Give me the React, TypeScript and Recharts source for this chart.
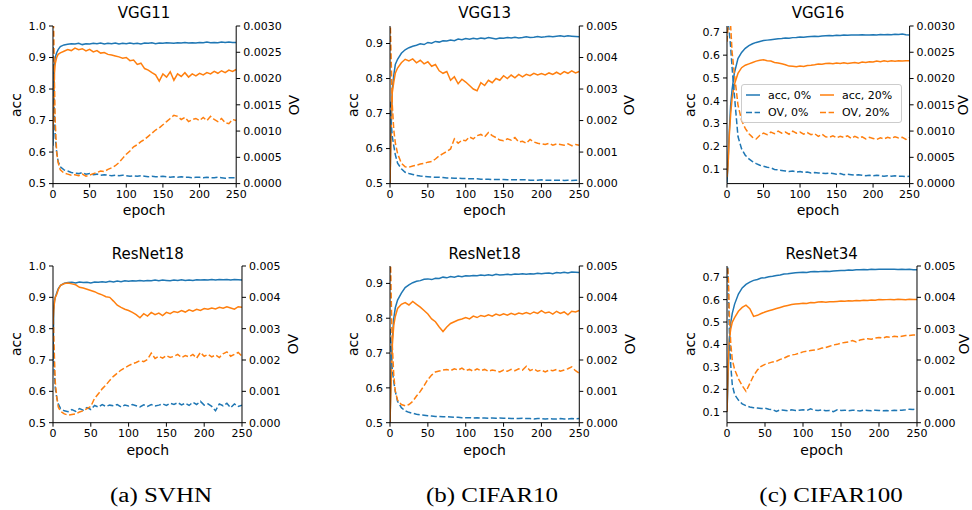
import { LineChart, Line, XAxis, YAxis } from 'recharts';

const BLUE = '#1f77b4';
const ORANGE = '#ff7f0e';
const SANS = '"DejaVu Sans", sans-serif';
const SERIF = '"Liberation Serif", "Times New Roman", serif';

// sampled epochs (dense at the start, then every 5)
const epochs = [
  0, 1, 2, 3, 5, 7, 10,
  15, 20, 25, 30, 35, 40, 45, 50,
  55, 60, 65, 70, 75, 80, 85, 90,
  95, 100, 105, 110, 115, 120, 125, 130,
  135, 140, 145, 150, 155, 160, 165, 170,
  175, 180, 185, 190, 195, 200, 205, 210,
  215, 220, 225, 230, 235, 240, 245, 250,
];

const epochTicks = [0, 50, 100, 150, 200, 250];
const accTicksTo10 = [0.5, 0.6, 0.7, 0.8, 0.9, 1.0];
const accTicksTo09 = [0.5, 0.6, 0.7, 0.8, 0.9];
const accTicksLow = [0.1, 0.2, 0.3, 0.4, 0.5, 0.6, 0.7];
const ovTicks003 = [0, 0.0005, 0.001, 0.0015, 0.002, 0.0025, 0.003];
const ovTicks005 = [0, 0.001, 0.002, 0.003, 0.004, 0.005];

// (a) SVHN - VGG11
const vgg11Acc0 = [
  0.62, 0.85, 0.88, 0.90, 0.915, 0.925, 0.935,
  0.940, 0.942, 0.944, 0.943, 0.945, 0.941, 0.944, 0.943,
  0.945, 0.944, 0.946, 0.943, 0.945, 0.944, 0.946, 0.943,
  0.945, 0.944, 0.946, 0.944, 0.945, 0.943, 0.946, 0.945,
  0.947, 0.944, 0.946, 0.945, 0.947, 0.946, 0.945, 0.947,
  0.946, 0.948, 0.946, 0.947, 0.946, 0.948, 0.947, 0.949,
  0.947, 0.948, 0.947, 0.949, 0.948, 0.949, 0.948, 0.948,
];
const vgg11Acc20 = [
  0.67, 0.76, 0.85, 0.88, 0.90, 0.91, 0.915,
  0.920, 0.925, 0.922, 0.930, 0.925, 0.928, 0.921, 0.926,
  0.918, 0.922, 0.914, 0.916, 0.910, 0.908, 0.905, 0.902,
  0.898, 0.900, 0.890, 0.892, 0.878, 0.882, 0.865, 0.860,
  0.852, 0.845, 0.825, 0.848, 0.838, 0.855, 0.828, 0.848,
  0.840, 0.852, 0.838, 0.848, 0.842, 0.850, 0.845, 0.852,
  0.848, 0.856, 0.850, 0.858, 0.852, 0.860, 0.856, 0.862,
];
const vgg11Ov0 = [
  0.0026, 0.0019, 0.0013, 0.0009, 0.0006, 0.00042, 0.00032,
  0.00026, 0.00024, 0.00021, 0.0002, 0.00019, 0.00021, 0.00018, 0.00019,
  0.00017, 0.00018, 0.00016, 0.00017, 0.00016, 0.00015, 0.00016, 0.00015,
  0.00016, 0.00015, 0.00014, 0.00015, 0.00014, 0.00015, 0.00014, 0.00013,
  0.00014, 0.00013, 0.00013, 0.00014, 0.00013, 0.00012, 0.00013, 0.00012,
  0.00013, 0.00012, 0.00012, 0.00011, 0.00012, 0.00012, 0.00011, 0.00012,
  0.00011, 0.00011, 0.00012, 0.00011, 0.0001, 0.00011, 0.00011, 0.00011,
];
const vgg11Ov20 = [
  0.0034, 0.0029, 0.0019, 0.0012, 0.0006, 0.0004, 0.00026,
  0.0002, 0.00018, 0.00016, 0.00017, 0.00015, 0.00018, 0.00014, 0.00016,
  0.00019, 0.00021, 0.00024, 0.00023, 0.00027, 0.0003, 0.00034, 0.0004,
  0.00048, 0.00056, 0.00062, 0.0007, 0.00074, 0.0008, 0.00084, 0.0009,
  0.00096, 0.00102, 0.00106, 0.00112, 0.00118, 0.00124, 0.0013, 0.00128,
  0.00122, 0.00126, 0.00118, 0.00122, 0.00124, 0.0012, 0.00126, 0.0012,
  0.00128, 0.00122, 0.00118, 0.00124, 0.00116, 0.00114, 0.00122, 0.0012,
];

// (b) CIFAR10 - VGG13
const vgg13Acc0 = [
  0.5, 0.62, 0.70, 0.77, 0.81, 0.84, 0.855,
  0.872, 0.882, 0.888, 0.892, 0.895, 0.899, 0.897, 0.903,
  0.901, 0.906, 0.904, 0.908, 0.907, 0.91, 0.908, 0.913,
  0.911, 0.914, 0.912, 0.915, 0.913, 0.916, 0.914, 0.917,
  0.915, 0.913, 0.916, 0.915, 0.917, 0.916, 0.918, 0.916,
  0.917, 0.919, 0.917, 0.918, 0.92, 0.918, 0.919, 0.921,
  0.919, 0.921, 0.922, 0.92, 0.922, 0.921, 0.92, 0.919,
];
const vgg13Acc20 = [
  0.5, 0.6, 0.7, 0.76, 0.79, 0.815, 0.83,
  0.845, 0.855, 0.85, 0.856, 0.845, 0.852, 0.842, 0.848,
  0.835, 0.84, 0.822, 0.815, 0.82, 0.795, 0.805, 0.785,
  0.798, 0.79, 0.78, 0.77, 0.765, 0.788, 0.78, 0.795,
  0.788, 0.8, 0.795, 0.808, 0.8, 0.81, 0.802, 0.812,
  0.805, 0.812, 0.808, 0.815, 0.81, 0.814, 0.81, 0.816,
  0.812, 0.818, 0.812, 0.82, 0.815, 0.822, 0.816, 0.82,
];
const vgg13Ov0 = [
  0.0026, 0.0022, 0.0018, 0.0015, 0.0012, 0.00092, 0.00065,
  0.00047, 0.00036, 0.00032, 0.00029, 0.00026, 0.00024, 0.00023, 0.00022,
  0.00021, 0.0002, 0.0002, 0.00019, 0.00018, 0.00018, 0.00017, 0.00017,
  0.00016, 0.00016, 0.00015, 0.00015, 0.00015, 0.00014, 0.00014, 0.00014,
  0.00013, 0.00013, 0.00013, 0.00013, 0.00012, 0.00012, 0.00012, 0.00012,
  0.00012, 0.00012, 0.00011, 0.00011, 0.00011, 0.00012, 0.00011, 0.00011,
  0.00011, 0.00011, 0.00011, 0.0001, 0.00011, 0.0001, 0.00011, 0.00011,
];
const vgg13Ov20 = [
  0.0055, 0.0045, 0.0035, 0.0025, 0.0017, 0.0013, 0.00095,
  0.00065, 0.00053, 0.00052, 0.00056, 0.00058, 0.00062, 0.00064, 0.00068,
  0.0007, 0.00078, 0.00088, 0.00095, 0.00102, 0.0011, 0.00142, 0.00128,
  0.00138, 0.00136, 0.00148, 0.00142, 0.00152, 0.00156, 0.00148, 0.00162,
  0.00152, 0.00146, 0.00138, 0.00136, 0.00142, 0.00138, 0.00146, 0.00132,
  0.00134, 0.00128, 0.0014, 0.00132, 0.00128, 0.00126, 0.00124, 0.00128,
  0.00122, 0.00126, 0.00124, 0.00122, 0.00126, 0.0012, 0.00124, 0.00122,
];

// (c) CIFAR100 - VGG16
const vgg16Acc0 = [
  0.04, 0.1, 0.18, 0.26, 0.38, 0.45, 0.52,
  0.585, 0.612, 0.63, 0.642, 0.65, 0.656, 0.66, 0.664,
  0.666, 0.668, 0.67, 0.672, 0.673, 0.675, 0.674, 0.677,
  0.678, 0.68, 0.679, 0.681, 0.682, 0.683, 0.682, 0.684,
  0.685, 0.686, 0.685, 0.687, 0.686, 0.688, 0.687, 0.688,
  0.689, 0.688, 0.69, 0.689, 0.688, 0.69, 0.689, 0.691,
  0.69, 0.691, 0.69, 0.692, 0.691, 0.693, 0.69, 0.689,
];
const vgg16Acc20 = [
  0.065, 0.1, 0.15, 0.24, 0.34, 0.41, 0.47,
  0.52, 0.545, 0.556, 0.562, 0.568, 0.574, 0.578, 0.58,
  0.576, 0.574, 0.568, 0.566, 0.562, 0.558, 0.552, 0.551,
  0.549, 0.552, 0.55, 0.555, 0.556, 0.558, 0.561, 0.56,
  0.563, 0.565, 0.562, 0.566, 0.564, 0.567, 0.564, 0.566,
  0.568, 0.565, 0.57, 0.568, 0.571, 0.57, 0.574, 0.571,
  0.575, 0.572, 0.575, 0.573, 0.576, 0.574, 0.576, 0.575,
];
const vgg16Ov0 = [
  0.0032, 0.0031, 0.003, 0.0029, 0.0026, 0.0022, 0.0017,
  0.0009, 0.00066, 0.00054, 0.00047, 0.00042, 0.00038, 0.00035, 0.00033,
  0.00031, 0.0003, 0.00027, 0.00026, 0.00025, 0.00024, 0.00023, 0.00024,
  0.00022, 0.00023, 0.00021, 0.00022, 0.0002, 0.00021, 0.0002, 0.0002,
  0.00019, 0.0002, 0.00019, 0.00018, 0.00019, 0.00017, 0.00018, 0.00017,
  0.00016, 0.00017, 0.00016, 0.00015, 0.00016, 0.00015, 0.00016, 0.00015,
  0.00014, 0.00015, 0.00014, 0.00015, 0.00014, 0.00014, 0.00013, 0.00014,
];
const vgg16Ov20 = [
  0.0027, 0.0029, 0.0031, 0.0031, 0.003, 0.0025, 0.0021,
  0.0015, 0.0012, 0.00105, 0.00095, 0.00088, 0.00085, 0.00092, 0.00096,
  0.00093, 0.00098, 0.00095, 0.001, 0.00096, 0.00098, 0.00094, 0.001,
  0.00096, 0.00098, 0.00094, 0.00097, 0.00093, 0.00095, 0.0009, 0.00094,
  0.00089, 0.00088, 0.00091, 0.00087, 0.0009, 0.00088, 0.00091, 0.00086,
  0.0009, 0.00087, 0.00089, 0.00085, 0.00088, 0.00086, 0.00084, 0.00087,
  0.00085, 0.00088, 0.00086, 0.00089, 0.00087, 0.00088, 0.00084, 0.00088,
];

// (a) SVHN - ResNet18
const res18sAcc0 = [
  0.7, 0.86, 0.89, 0.9, 0.915, 0.928, 0.938,
  0.945, 0.947, 0.948, 0.946, 0.949, 0.947, 0.948, 0.946,
  0.949, 0.948, 0.95, 0.948, 0.951, 0.949, 0.952, 0.95,
  0.953, 0.951, 0.953, 0.952, 0.954, 0.952, 0.954, 0.953,
  0.955, 0.953, 0.955, 0.954, 0.953, 0.955, 0.954, 0.956,
  0.954, 0.955, 0.954, 0.956, 0.955, 0.956, 0.955, 0.957,
  0.955, 0.957, 0.956, 0.957, 0.955, 0.957, 0.956, 0.955,
];
const res18sAcc20 = [
  0.82, 0.86, 0.885, 0.9, 0.91, 0.925, 0.938,
  0.944, 0.946, 0.943, 0.94, 0.932, 0.93, 0.926, 0.922,
  0.918, 0.912, 0.908, 0.902, 0.9, 0.888, 0.875, 0.868,
  0.862, 0.858, 0.852, 0.845, 0.835, 0.848, 0.84, 0.852,
  0.845, 0.85, 0.842, 0.852, 0.848, 0.855, 0.852, 0.858,
  0.853, 0.86, 0.856, 0.862, 0.858, 0.864, 0.862, 0.866,
  0.863, 0.868, 0.865, 0.87, 0.866, 0.862, 0.87, 0.868,
];
const res18sOv0 = [
  0.0028, 0.002, 0.0015, 0.0011, 0.0008, 0.0006, 0.00045,
  0.00038, 0.00035, 0.00042, 0.00036, 0.00045, 0.0004, 0.00048, 0.00042,
  0.00055, 0.0005, 0.00058, 0.00052, 0.00056, 0.00054, 0.00058, 0.0005,
  0.00056, 0.00053, 0.00058, 0.00054, 0.0005, 0.00057, 0.00052, 0.00058,
  0.00053, 0.00056, 0.0006, 0.00055, 0.00062, 0.00058, 0.00064, 0.00057,
  0.00062, 0.00055, 0.00065, 0.00058, 0.00068, 0.00056, 0.0006, 0.00052,
  0.00038, 0.0006, 0.00054, 0.00062, 0.00048, 0.0006, 0.00052, 0.00056,
];
const res18sOv20 = [
  0.0036, 0.0028, 0.002, 0.0013, 0.0008, 0.0005, 0.00036,
  0.00028, 0.00024, 0.00026, 0.00028, 0.00034, 0.00038, 0.00045, 0.00052,
  0.00078, 0.00092, 0.00108, 0.0012, 0.00135, 0.00148, 0.00158, 0.00168,
  0.00175, 0.00182, 0.00188, 0.00192, 0.00198, 0.00195, 0.00202, 0.00222,
  0.00205, 0.00212, 0.00206, 0.00214, 0.00208, 0.00212, 0.00218, 0.00208,
  0.00214, 0.0021, 0.00218, 0.00206, 0.00224, 0.00212, 0.00218, 0.0021,
  0.00216, 0.00208, 0.0022, 0.00226, 0.00212, 0.00218, 0.00224, 0.00212,
];

// (b) CIFAR10 - ResNet18
const res18cAcc0 = [
  0.5, 0.6, 0.68, 0.74, 0.8, 0.83, 0.852,
  0.872, 0.888, 0.896, 0.902, 0.906, 0.908, 0.912, 0.913,
  0.911, 0.915, 0.914, 0.918, 0.916, 0.92, 0.918, 0.921,
  0.919, 0.922, 0.921, 0.923, 0.922, 0.924, 0.923, 0.925,
  0.923, 0.926, 0.924, 0.925, 0.926, 0.925, 0.927, 0.926,
  0.928, 0.926, 0.928, 0.927, 0.929, 0.928, 0.929, 0.93,
  0.928, 0.931, 0.93, 0.932, 0.93, 0.933, 0.932, 0.931,
];
const res18cAcc20 = [
  0.5, 0.58, 0.65, 0.72, 0.78, 0.805, 0.828,
  0.84, 0.845, 0.838, 0.848, 0.84, 0.832, 0.822, 0.812,
  0.798, 0.79, 0.775, 0.762, 0.775, 0.785, 0.79, 0.795,
  0.798, 0.802, 0.798, 0.806, 0.802, 0.808, 0.805, 0.81,
  0.806, 0.812, 0.808, 0.813, 0.809, 0.814, 0.81, 0.815,
  0.812, 0.816, 0.812, 0.818, 0.814, 0.822, 0.815, 0.818,
  0.812, 0.82, 0.814, 0.818, 0.81, 0.82, 0.818, 0.822,
];
const res18cOv0 = [
  0.003, 0.0025, 0.002, 0.0017, 0.0013, 0.001, 0.00068,
  0.00048, 0.00038, 0.00033, 0.0003, 0.00027, 0.00025, 0.00024, 0.00022,
  0.00021, 0.0002, 0.0002, 0.00019, 0.00019, 0.00018, 0.00017, 0.00017,
  0.00016, 0.00016, 0.00016, 0.00015, 0.00016, 0.00015, 0.00015, 0.00014,
  0.00015, 0.00014, 0.00015, 0.00014, 0.00014, 0.00013, 0.00014, 0.00013,
  0.00014, 0.00013, 0.00013, 0.00012, 0.00013, 0.00013, 0.00012, 0.00013,
  0.00012, 0.00012, 0.00013, 0.00012, 0.00012, 0.00013, 0.00012, 0.00013,
];
const res18cOv20 = [
  0.0058, 0.0048, 0.0035, 0.0025, 0.0015, 0.001, 0.00072,
  0.00058, 0.00054, 0.00058, 0.00068, 0.00085, 0.001, 0.00118, 0.00138,
  0.00152, 0.00162, 0.00165, 0.00168, 0.0017, 0.00166, 0.00172, 0.00168,
  0.00174, 0.00166, 0.0017, 0.00164, 0.00172, 0.00166, 0.0017, 0.00164,
  0.00168, 0.00166, 0.00162, 0.00168, 0.00164, 0.0017, 0.00166, 0.00172,
  0.00168, 0.0018, 0.00166, 0.00172, 0.00164, 0.00168, 0.00162, 0.00168,
  0.00166, 0.0017, 0.00164, 0.00168, 0.00172, 0.00178, 0.00166, 0.00158,
];

// (c) CIFAR100 - ResNet34
const res34Acc0 = [
  0.1, 0.2, 0.32, 0.42, 0.5, 0.54, 0.58,
  0.625, 0.652, 0.668, 0.678, 0.686, 0.69, 0.696, 0.698,
  0.702, 0.704, 0.708, 0.71, 0.714, 0.715, 0.718, 0.72,
  0.721, 0.722, 0.721, 0.724, 0.725, 0.724, 0.726, 0.727,
  0.726, 0.728, 0.729, 0.73, 0.73, 0.732, 0.731, 0.733,
  0.733, 0.734, 0.733, 0.735, 0.734, 0.736, 0.735, 0.736,
  0.735, 0.736, 0.734, 0.735, 0.734, 0.735, 0.733, 0.733,
];
const res34Acc20 = [
  0.1, 0.24, 0.34, 0.42, 0.47, 0.5, 0.52,
  0.548, 0.565, 0.575, 0.56, 0.525, 0.53, 0.538, 0.545,
  0.55, 0.555, 0.56, 0.565, 0.57, 0.574, 0.578, 0.58,
  0.582, 0.584, 0.583, 0.587, 0.586, 0.589, 0.59, 0.588,
  0.591, 0.59, 0.592, 0.594, 0.593, 0.595, 0.594, 0.596,
  0.595, 0.597, 0.596, 0.598, 0.597, 0.6, 0.599, 0.6,
  0.601, 0.6, 0.602, 0.601, 0.6, 0.602, 0.601, 0.6,
];
const res34Ov0 = [
  0.0055, 0.005, 0.004, 0.003, 0.0018, 0.0012, 0.0009,
  0.00072, 0.0006, 0.00054, 0.0005, 0.00048, 0.00047, 0.00045, 0.00046,
  0.00043, 0.00042, 0.00036, 0.00041, 0.0004, 0.00038, 0.00041, 0.00039,
  0.0004, 0.00041, 0.00039, 0.00044, 0.0004, 0.00039, 0.00041, 0.00038,
  0.00039, 0.00035, 0.00041, 0.00039, 0.0004, 0.00038, 0.0004, 0.00039,
  0.00037, 0.0004, 0.00039, 0.00038, 0.0004, 0.00039, 0.00038, 0.00039,
  0.00038, 0.0004, 0.00039, 0.0004, 0.00041, 0.00043, 0.00042, 0.00044,
];
const res34Ov20 = [
  0.0052, 0.0049, 0.0045, 0.0035, 0.0025, 0.002, 0.0017,
  0.0014, 0.00118, 0.001, 0.00125, 0.0015, 0.00168, 0.0018, 0.00186,
  0.0019, 0.00194, 0.00196, 0.00202, 0.00206, 0.00212, 0.00216, 0.00218,
  0.00222, 0.00226, 0.00228, 0.0023, 0.00232, 0.00234, 0.00238, 0.0024,
  0.00244, 0.00248, 0.0025, 0.00254, 0.00256, 0.00258, 0.00262, 0.00258,
  0.00264, 0.00266, 0.00268, 0.00266, 0.0027, 0.00272, 0.0027, 0.00274,
  0.00272, 0.00276, 0.00274, 0.00276, 0.00278, 0.00278, 0.0028, 0.0028,
];

interface PanelSpec {
  title: string;
  acc0: number[];
  acc20: number[];
  ov0: number[];
  ov20: number[];
  accDomain: [number, number];
  accTicks: number[];
  ovDomain: [number, number];
  ovTicks: number[];
  ovDigits: number;
  // plot area in page pixels
  x: number;
  y: number;
  w: number;
  h: number;
  accLabelX: number;
  ovLabelX: number;
  legend?: boolean;
}

const panels: PanelSpec[] = [
  {
    title: 'VGG11', acc0: vgg11Acc0, acc20: vgg11Acc20, ov0: vgg11Ov0, ov20: vgg11Ov20,
    accDomain: [0.5, 1.0], accTicks: accTicksTo10, ovDomain: [0, 0.003], ovTicks: ovTicks003, ovDigits: 4,
    x: 52.5, y: 25.7, w: 183.2, h: 157.6, accLabelX: 16, ovLabelX: 294,
  },
  {
    title: 'VGG13', acc0: vgg13Acc0, acc20: vgg13Acc20, ov0: vgg13Ov0, ov20: vgg13Ov20,
    accDomain: [0.5, 0.95], accTicks: accTicksTo09, ovDomain: [0, 0.005], ovTicks: ovTicks005, ovDigits: 3,
    x: 390, y: 25.7, w: 189.3, h: 157.6, accLabelX: 352.5, ovLabelX: 629,
  },
  {
    title: 'VGG16', acc0: vgg16Acc0, acc20: vgg16Acc20, ov0: vgg16Ov0, ov20: vgg16Ov20,
    accDomain: [0.0365, 0.728], accTicks: accTicksLow, ovDomain: [0, 0.003], ovTicks: ovTicks003, ovDigits: 4,
    x: 726.7, y: 25.7, w: 182.6, h: 157.6, accLabelX: 689.5, ovLabelX: 963, legend: true,
  },
  {
    title: 'ResNet18', acc0: res18sAcc0, acc20: res18sAcc20, ov0: res18sOv0, ov20: res18sOv20,
    accDomain: [0.5, 1.0], accTicks: accTicksTo10, ovDomain: [0, 0.005], ovTicks: ovTicks005, ovDigits: 3,
    x: 53.3, y: 266, w: 189, h: 156.7, accLabelX: 16, ovLabelX: 292.5,
  },
  {
    title: 'ResNet18', acc0: res18cAcc0, acc20: res18cAcc20, ov0: res18cOv0, ov20: res18cOv20,
    accDomain: [0.5, 0.95], accTicks: accTicksTo09, ovDomain: [0, 0.005], ovTicks: ovTicks005, ovDigits: 3,
    x: 390, y: 266, w: 189.3, h: 156.7, accLabelX: 352.5, ovLabelX: 630,
  },
  {
    title: 'ResNet34', acc0: res34Acc0, acc20: res34Acc20, ov0: res34Ov0, ov20: res34Ov20,
    accDomain: [0.051, 0.75], accTicks: accTicksLow, ovDomain: [0, 0.005], ovTicks: ovTicks005, ovDigits: 3,
    x: 726.7, y: 266, w: 190, h: 156.7, accLabelX: 689.5, ovLabelX: 964, 
  },
];

const captions = [
  { text: '(a) SVHN', x: 161 },
  { text: '(b) CIFAR10', x: 492 },
  { text: '(c) CIFAR100', x: 831 },
];

const LW = 50; // left axis width
const RW = 54; // right axis width
const TOP = 10;
const XH = 24; // x axis height

const tickStyle = { fill: '#000', fontSize: 11, fontFamily: SANS };
const axisLine = { stroke: '#000', strokeWidth: 1 };
const DASH = '6 2.6';

function TextAt({ x, y, size, children, rotate, family = SANS, scaleX }: {
  x: number; y: number; size: number; children: string; rotate?: boolean; family?: string; scaleX?: number;
}) {
  let transform = 'translate(-50%, -50%)';
  if (rotate) transform += ' rotate(-90deg)';
  if (scaleX) transform += ` scaleX(${scaleX})`;
  return (
    <div
      style={{
        position: 'absolute', left: x, top: y, transform, whiteSpace: 'nowrap',
        fontFamily: family, fontSize: size, lineHeight: 1, color: '#000',
      }}
    >
      {children}
    </div>
  );
}

function LegendBox() {
  const items = [
    { label: 'acc, 0%', color: BLUE, dash: undefined, x: 5, y: 11 },
    { label: 'OV, 0%', color: BLUE, dash: DASH, x: 5, y: 28.5 },
    { label: 'acc, 20%', color: ORANGE, dash: undefined, x: 79, y: 11 },
    { label: 'OV, 20%', color: ORANGE, dash: DASH, x: 79, y: 28.5 },
  ];
  return (
    <div
      style={{
        position: 'absolute', left: 741, top: 84, width: 161, height: 39,
        border: '1px solid #cccccc', borderRadius: 3, background: 'rgba(255,255,255,0.8)',
        boxSizing: 'border-box',
      }}
    >
      <svg width={161} height={39} style={{ position: 'absolute', left: -1, top: -1 }}>
        {items.map((it) => (
          <g key={it.label}>
            <line
              x1={it.x} x2={it.x + 14} y1={it.y} y2={it.y}
              stroke={it.color} strokeWidth={1.5} strokeDasharray={it.dash}
            />
            <text x={it.x + 22} y={it.y} dy="0.36em" fontSize={11} fontFamily={SANS} fill="#000">
              {it.label}
            </text>
          </g>
        ))}
      </svg>
    </div>
  );
}

function Panel({ p }: { p: PanelSpec }) {
  const rows = epochs.map((epoch, i) => ({
    epoch,
    acc0: p.acc0[i],
    acc20: p.acc20[i],
    ov0: p.ov0[i],
    ov20: p.ov20[i],
  }));
  return (
    <>
      <div style={{ position: 'absolute', left: p.x - LW, top: p.y - TOP }}>
        <LineChart
          width={p.w + LW + RW}
          height={p.h + TOP + XH}
          data={rows}
          margin={{ top: TOP, right: 0, bottom: 0, left: 0 }}
        >
          <XAxis
            dataKey="epoch" type="number" domain={[0, 250]} ticks={epochTicks} interval={0}
            allowDataOverflow height={XH} axisLine={axisLine} tickLine={axisLine}
            tick={tickStyle} tickSize={4} tickMargin={3}
          />
          <XAxis
            xAxisId="top" orientation="top" dataKey="epoch" type="number" domain={[0, 250]}
            height={0} tick={false} tickLine={false} axisLine={axisLine}
          />
          <YAxis
            yAxisId="acc" domain={p.accDomain} ticks={p.accTicks} interval={0} allowDataOverflow
            width={LW} axisLine={axisLine} tickLine={axisLine} tick={tickStyle}
            tickSize={4} tickMargin={3} tickFormatter={(v: number) => v.toFixed(1)}
          />
          <YAxis
            yAxisId="ov" orientation="right" domain={p.ovDomain} ticks={p.ovTicks} interval={0}
            allowDataOverflow width={RW} axisLine={axisLine} tickLine={axisLine} tick={tickStyle}
            tickSize={4} tickMargin={3} tickFormatter={(v: number) => v.toFixed(p.ovDigits)}
          />
          <Line yAxisId="acc" dataKey="acc0" stroke={BLUE} strokeWidth={1.5} dot={false} isAnimationActive={false} />
          <Line yAxisId="acc" dataKey="acc20" stroke={ORANGE} strokeWidth={1.5} dot={false} isAnimationActive={false} />
          <Line yAxisId="ov" dataKey="ov0" stroke={BLUE} strokeWidth={1.5} strokeDasharray={DASH} dot={false} isAnimationActive={false} />
          <Line yAxisId="ov" dataKey="ov20" stroke={ORANGE} strokeWidth={1.5} strokeDasharray={DASH} dot={false} isAnimationActive={false} />
        </LineChart>
      </div>
      <TextAt x={p.x + p.w / 2} y={p.y - 12.3} size={15}>{p.title}</TextAt>
      <TextAt x={p.x + p.w / 2} y={p.y + p.h + 27} size={14}>epoch</TextAt>
      <TextAt x={p.accLabelX} y={p.y + p.h / 2} size={14} rotate>acc</TextAt>
      <TextAt x={p.ovLabelX} y={p.y + p.h / 2} size={14} rotate>OV</TextAt>
      {p.legend && <LegendBox />}
    </>
  );
}

export default function App() {
  return (
    <div
      style={{
        position: 'absolute', left: 0, top: 0, width: 972, height: 510,
        background: '#fff', overflow: 'hidden',
      }}
    >
      {panels.map((p, i) => (
        <Panel key={i} p={p} />
      ))}
      {captions.map((c) => (
        <TextAt key={c.text} x={c.x} y={495} size={20} family={SERIF} scaleX={1.25}>
          {c.text}
        </TextAt>
      ))}
    </div>
  );
}
